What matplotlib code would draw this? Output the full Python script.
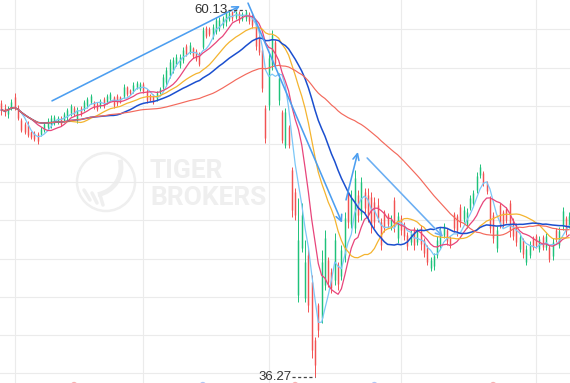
import numpy as np
import pandas as pd
import matplotlib
matplotlib.use("Agg")
import matplotlib.pyplot as plt
from matplotlib.patches import Circle, Arc

# ---------------- data (daily candles, price units) ----------------
opens = [
    54.09, 53.76, 53.37, 53.76, 54.48, 53.76, 52.98, 52.72, 52.66, 52.20,
    52.14, 52.07, 52.07, 52.33, 52.53, 52.66, 52.79, 52.85, 53.11, 52.98,
    53.18, 53.44, 53.76, 52.98, 53.76, 53.70, 53.96, 54.15, 54.15, 54.02,
    53.89, 54.35, 54.15, 54.35, 54.48, 54.54, 54.48, 54.54, 55.13, 54.93,
    54.87, 55.13, 55.00, 55.32, 54.87, 54.61, 54.54, 54.35, 54.80, 55.13,
    55.45, 55.91, 56.23, 56.62, 56.56, 56.88, 57.79, 57.40, 57.66, 57.47,
    57.27, 57.73, 58.96, 58.90, 58.44, 58.77, 58.96, 59.16, 59.35, 59.55,
    60.00, 59.68, 59.94, 59.55, 59.61, 59.87, 59.68, 59.29, 58.31, 57.53,
    53.76, 53.96, 56.56, 58.05, 54.28, 53.50, 51.36, 52.53, 49.73, 48.30,
    41.61, 44.66, 41.41, 44.21, 42.45, 38.68, 40.96, 40.11, 42.26, 43.88,
    43.10, 42.58, 43.56, 42.84, 44.21, 48.30, 46.22, 45.96, 48.11, 46.87,
    48.30, 48.11, 47.98, 47.65, 47.46, 46.35, 47.00, 46.81, 46.03, 47.78,
    45.31, 46.61, 46.16, 45.51, 45.05, 45.90, 45.05, 45.96, 45.18, 44.66,
    43.36, 43.49, 44.21, 44.92, 45.51, 45.83, 45.31, 46.87, 46.74, 47.33,
    46.55, 46.22, 47.26, 47.59, 48.43, 49.41, 49.54, 48.89, 47.91, 46.81,
    44.66, 47.46, 47.00, 47.20, 47.59, 46.42, 46.09, 44.60, 45.18, 43.75,
    44.21, 45.31, 45.44, 44.60, 45.38, 44.73, 44.73, 44.14, 45.83, 44.86,
    46.09, 46.61, 46.16,
]
highs = [
    54.28, 54.02, 53.89, 54.35, 54.74, 53.96, 53.11, 52.85, 52.92, 52.27,
    52.27, 52.20, 52.53, 52.85, 53.11, 53.31, 53.31, 53.24, 53.24, 53.50,
    53.76, 54.02, 53.89, 53.83, 53.89, 54.28, 54.48, 54.67, 54.22, 54.15,
    54.35, 54.48, 54.67, 54.80, 54.54, 54.67, 54.54, 55.32, 55.19, 55.00,
    55.45, 55.52, 55.45, 55.45, 55.00, 54.67, 54.67, 54.87, 55.13, 55.97,
    56.43, 56.95, 57.08, 57.27, 57.27, 57.73, 57.92, 58.05, 57.73, 57.60,
    57.40, 59.03, 59.09, 59.03, 59.22, 59.68, 59.68, 59.74, 60.07, 60.07,
    60.07, 60.07, 60.07, 60.00, 60.13, 60.00, 59.87, 59.48, 58.83, 57.73,
    53.96, 57.40, 58.83, 58.18, 56.04, 53.63, 53.76, 52.66, 49.93, 48.56,
    47.91, 47.59, 45.18, 44.66, 42.91, 38.88, 41.09, 44.53, 45.83, 44.08,
    43.36, 45.64, 43.75, 44.86, 47.00, 48.63, 48.43, 49.73, 48.43, 49.28,
    48.56, 48.56, 48.30, 47.98, 47.91, 46.61, 47.13, 46.94, 46.81, 47.98,
    47.00, 46.81, 46.35, 45.70, 45.83, 46.03, 45.96, 46.16, 45.31, 44.86,
    44.08, 44.34, 45.44, 46.03, 46.29, 45.96, 45.44, 47.00, 46.87, 47.52,
    47.39, 47.26, 48.11, 48.43, 49.60, 50.12, 49.67, 49.02, 48.04, 47.00,
    46.09, 47.59, 47.13, 47.33, 47.78, 46.61, 46.29, 45.64, 45.31, 44.86,
    45.12, 45.44, 45.57, 45.44, 45.51, 45.64, 44.86, 45.31, 45.96, 46.03,
    47.33, 46.74, 47.00,
]
lows = [
    53.31, 53.24, 53.11, 53.63, 53.63, 52.98, 52.20, 52.07, 51.88, 51.75,
    51.62, 51.42, 51.94, 52.20, 52.33, 52.46, 52.66, 52.72, 52.59, 52.85,
    52.98, 53.24, 53.24, 52.79, 53.24, 53.57, 53.76, 54.02, 53.70, 53.57,
    53.76, 53.76, 54.02, 54.22, 53.76, 53.89, 54.09, 54.41, 54.54, 54.61,
    54.74, 55.00, 54.87, 54.74, 54.09, 54.22, 54.02, 54.22, 54.67, 55.00,
    55.19, 55.71, 56.04, 56.49, 56.36, 56.69, 57.14, 57.27, 57.01, 56.82,
    56.49, 57.60, 58.31, 58.44, 58.25, 58.57, 58.77, 58.96, 59.09, 59.42,
    59.42, 59.55, 59.29, 59.42, 59.42, 59.22, 58.96, 57.53, 57.21, 54.80,
    51.49, 53.63, 56.23, 56.43, 53.96, 51.49, 51.16, 51.16, 46.68, 46.48,
    41.15, 44.40, 41.15, 40.50, 37.51, 36.27, 38.88, 39.79, 41.93, 42.13,
    41.74, 42.26, 41.93, 42.58, 43.75, 45.96, 45.96, 45.64, 46.35, 46.48,
    46.94, 46.35, 45.64, 45.96, 46.35, 44.53, 45.70, 46.03, 45.83, 45.70,
    44.99, 45.51, 45.18, 44.53, 44.86, 44.53, 44.86, 44.53, 44.08, 43.56,
    43.17, 43.23, 44.01, 44.66, 45.31, 44.86, 44.66, 45.70, 45.44, 46.03,
    46.35, 45.96, 47.13, 47.39, 48.24, 49.21, 48.69, 48.17, 45.64, 44.99,
    44.40, 45.96, 46.03, 46.29, 45.38, 45.18, 44.79, 44.40, 44.01, 43.56,
    44.01, 44.53, 44.66, 44.40, 44.53, 44.53, 43.75, 43.88, 45.05, 44.66,
    45.83, 45.51, 45.96,
]
closes = [
    53.63, 53.50, 53.76, 54.15, 53.89, 53.11, 52.33, 52.20, 52.01, 51.88,
    51.75, 51.62, 52.40, 52.72, 52.92, 53.11, 53.18, 53.11, 52.72, 53.37,
    53.63, 53.89, 53.37, 53.63, 53.37, 54.15, 54.35, 54.54, 53.83, 53.70,
    54.22, 53.96, 54.54, 54.67, 53.96, 54.09, 54.15, 55.13, 54.67, 54.74,
    55.26, 55.39, 55.32, 54.87, 54.28, 54.28, 54.15, 54.74, 55.00, 55.78,
    56.23, 56.75, 56.88, 57.08, 57.08, 57.53, 57.27, 57.86, 57.14, 56.95,
    56.62, 58.83, 58.44, 58.57, 59.03, 59.48, 59.48, 59.61, 59.94, 59.94,
    59.61, 60.00, 59.48, 59.87, 60.00, 59.42, 59.16, 57.79, 57.40, 55.06,
    51.81, 57.01, 58.51, 56.69, 55.71, 51.68, 53.50, 51.36, 47.13, 46.81,
    45.18, 46.81, 43.75, 40.96, 38.03, 37.06, 39.33, 43.75, 45.31, 42.45,
    42.06, 45.18, 42.32, 44.53, 46.61, 46.35, 47.91, 49.21, 46.81, 48.95,
    47.26, 46.81, 46.16, 46.35, 46.61, 44.86, 45.96, 46.22, 46.55, 46.09,
    46.74, 45.83, 45.44, 44.79, 45.64, 44.86, 45.70, 44.92, 44.34, 43.75,
    43.88, 44.14, 45.18, 45.83, 46.09, 45.12, 44.86, 45.96, 45.83, 46.35,
    47.13, 47.00, 47.91, 48.24, 49.34, 49.93, 48.89, 48.37, 45.96, 45.31,
    45.83, 46.22, 46.22, 46.48, 45.83, 45.44, 45.05, 45.38, 44.27, 44.60,
    44.86, 44.73, 44.86, 45.25, 44.73, 45.44, 43.95, 45.05, 45.25, 45.77,
    47.07, 45.77, 46.74,
]

ma_periods = [5, 10, 20, 30, 60]

# horizontal grid levels (price) and vertical grid positions (candle index)
grid_prices = [58.90, 56.36, 53.89, 51.42, 48.95, 46.48, 43.95, 41.48, 39.01, 36.54]
grid_index = [4, 43, 81, 121, 162]

# hand-drawn trend arrows: (start index, start price, end index, end price)
arrow_start_idx = [15.3, 74.7, 104.4, 110.8]
arrow_start_px = [54.22, 60.58, 47.78, 50.51]
arrow_end_idx = [72.3, 103.2, 108.0, 133.8]
arrow_end_px = [60.39, 46.29, 50.90, 45.38]

# event markers along the bottom edge
event_index = [22, 61, 89, 113, 149]
event_kind = ["p", "b", "p", "b", "p"]

# ---------------- styling ----------------
UP = "#1ec27a"
DOWN = "#f25252"
MA_COLORS = ["#7cc7f7", "#e8457b", "#f4b42f", "#1b4fcf", "#f3695c"]
MA_LW = [0.9, 0.9, 0.9, 1.1, 0.85]
ARROW_COLORS = ["#4c9ef0", "#4c9ef0", "#4c9ef0", "#6aaef3"]
GRID = "#ebebeb"
WM = "#efefef"

fig = plt.figure(figsize=(5.7, 3.83), dpi=100)
ax = fig.add_axes([0, 0, 1, 1])
ax.set_facecolor("white")
for s in ax.spines.values():
    s.set_visible(False)

o = np.array(opens); h = np.array(highs); l = np.array(lows); c = np.array(closes)
n = len(c)
x = np.arange(n)

ax.set_xlim(-0.45, 172.27)
ax.set_ylim(35.877, 60.78)

# grid
ax.set_yticks(grid_prices)
ax.set_xticks(grid_index)
ax.grid(True, color=GRID, lw=0.8, zorder=0)
ax.tick_params(left=False, bottom=False, labelleft=False, labelbottom=False)

# watermark (pixel-based placement)
tr = fig.dpi_scale_trans
ax.add_patch(Circle((1.06, 2.01), 0.29, transform=tr, fill=False, ec=WM, lw=1.8, zorder=1))
ax.add_patch(Arc((0.93, 2.16), 0.56, 0.56, theta1=-80, theta2=15, transform=tr,
                 ec=WM, lw=3.5, zorder=1))
for (x0, y0, x1, y1) in [(0.84, 1.93, 0.90, 1.83), (0.92, 1.90, 0.97, 1.80), (1.00, 1.88, 1.03, 1.78)]:
    ax.plot([x0, x1], [y0, y1], transform=tr, color=WM, lw=2.5, zorder=1, solid_capstyle="round")
ax.text(150 / 570, 1 - 178 / 383, "TIGER", transform=ax.transAxes, ha="left", va="baseline",
        fontsize=19, fontweight="bold", family="Roboto", color=WM, zorder=1)
ax.text(150 / 570, 1 - 205 / 383, "BROKERS", transform=ax.transAxes, ha="left", va="baseline",
        fontsize=19, fontweight="bold", family="Roboto", color=WM, zorder=1)

# candles
cols = np.where(c >= o, UP, DOWN)
ax.vlines(x, l, h, colors=cols, lw=0.7, zorder=3)
ax.vlines(x, np.minimum(o, c), np.maximum(o, c), colors=cols, lw=1.05, zorder=3)

# moving averages
cs = pd.Series(c)
for p, col, lw in zip(ma_periods, MA_COLORS, MA_LW):
    ma = cs.rolling(p, min_periods=1).mean()
    ax.plot(x, ma, color=col, lw=lw, zorder=4)

# trend arrows
for xs, ys, xe, ye, col in zip(arrow_start_idx, arrow_start_px, arrow_end_idx, arrow_end_px, ARROW_COLORS):
    ax.annotate("", xy=(xe, ye), xytext=(xs, ys),
                arrowprops=dict(arrowstyle="->,head_length=0.45,head_width=0.22",
                                color=col, lw=1.15, shrinkA=0, shrinkB=0), zorder=5)

# high / low labels
hi = int(np.argmax(h)); lo = int(np.argmin(l))
ax.plot([hi - 5.4, hi], [h[hi], h[hi]], color="#444444", lw=0.9, ls=(0, (2.5, 2.0)), zorder=6)
ax.text(hi - 5.5, h[hi], f"{h[hi]:.2f}", ha="right", va="center", fontsize=9.5,
        family="Liberation Sans", color="#333333", zorder=6)
ax.plot([lo - 7.0, lo], [l[lo], l[lo]], color="#444444", lw=0.9, ls=(0, (2.5, 2.0)), zorder=6)
ax.text(lo - 7.1, l[lo], f"{l[lo]:.2f}", ha="right", va="center", fontsize=9.5,
        family="Liberation Sans", color="#333333", zorder=6)

# bottom event markers (mostly clipped)
ev_col = {"p": "#f7b0b0", "b": "#b0c6f4"}
ax.scatter(event_index, [35.74] * len(event_index), s=22,
           c=[ev_col[k] for k in event_kind], zorder=2, clip_on=True, linewidths=0)

fig.savefig("out.png", dpi=100)
